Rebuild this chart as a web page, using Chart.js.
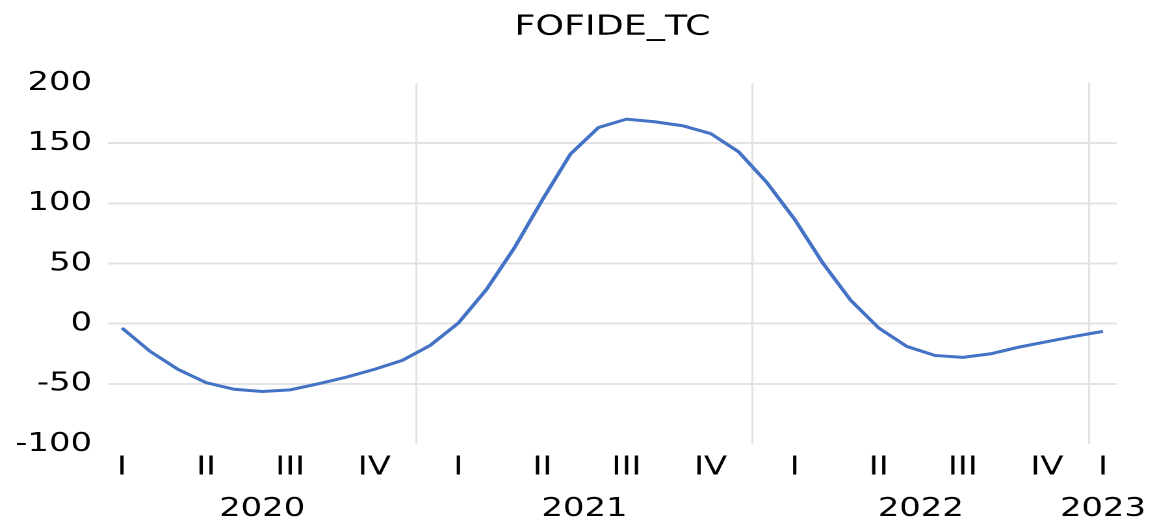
<!DOCTYPE html>
<html>
<head>
<meta charset="utf-8">
<script src="https://cdn.jsdelivr.net/npm/chart.js@4/dist/chart.umd.min.js"></script>
<style>
  html, body { margin: 0; padding: 0; background: #fff; overflow: hidden; }
  /* el original se ve estirado a lo ancho */
  #caja { width: 890px; height: 519px; transform: scaleX(1.3); transform-origin: 0 0; }
</style>
</head>
<body>
<div id="caja"><canvas id="grafico" width="890" height="519"></canvas></div>
<script>
// meses (feb 2020 - ene 2023)
let meses = ['2020-02','2020-03','2020-04','2020-05','2020-06','2020-07','2020-08','2020-09','2020-10','2020-11','2020-12',
             '2021-01','2021-02','2021-03','2021-04','2021-05','2021-06','2021-07','2021-08','2021-09','2021-10','2021-11','2021-12',
             '2022-01','2022-02','2022-03','2022-04','2022-05','2022-06','2022-07','2022-08','2022-09','2022-10','2022-11','2022-12',
             '2023-01'];
let trimestres = ['I','','','II','','','III','','','IV','',
                  '','I','','','II','','','III','','','IV','',
                  '','I','','','II','','','III','','','IV','',
                  'I'];
let valores = [-3.6, -23, -38, -49, -54.5, -56.4, -55, -50, -44.5, -38, -30.5,
               -18, 0.5, 28.3, 63, 103, 141, 163, 170, 167.8, 164.5, 158, 142.8,
               117.5, 86.7, 50.5, 19.4, -3.6, -18.9, -26.4, -28, -25, -19.5, -15, -10.5,
               -6.4];
let anios = ['2020', '2021', '2022', '2023'];
let inicioAnio = [0, 11, 23, 35];
let finAnio = [10, 22, 34, 35];
let ticksY = [200, 150, 100, 50, 0, -50, -100];

Chart.defaults.font.family = "'DejaVu Sans', sans-serif";
Chart.defaults.color = '#000';

let gris = '#e3e3e3';

// etiquetas de los años debajo de los trimestres
let etiquetaAnios = {
    id: 'etiquetaAnios',
    afterDraw: (chart) => {
        let ctx = chart.ctx;
        let x = chart.scales.x;
        ctx.save();
        ctx.font = "26px 'DejaVu Sans', sans-serif";
        ctx.fillStyle = '#000';
        ctx.textAlign = 'center';
        ctx.textBaseline = 'middle';
        for (let i = 0; i < anios.length; i++) {
            let centro = (x.getPixelForValue(inicioAnio[i]) + x.getPixelForValue(finAnio[i])) / 2;
            ctx.fillText(anios[i], centro, 509);
        }
        ctx.restore();
    }
};

let ctx = document.getElementById('grafico').getContext('2d');
let miGrafico = new Chart(ctx, {
    type: 'line',
    data: {
        labels: meses,
        datasets: [{
            label: 'FOFIDE_TC',
            data: valores,
            borderColor: '#4472C4',
            borderWidth: 3,
            pointRadius: 0,
            tension: 0,
            fill: false
        }]
    },
    options: {
        responsive: false,
        animation: false,
        devicePixelRatio: 2,
        layout: { padding: { left: 0, right: 30.8, top: 0, bottom: 0 } },
        plugins: {
            legend: { display: false },
            tooltip: { enabled: false },
            title: {
                display: true,
                text: 'FOFIDE_TC',
                fullSize: false,
                color: '#000',
                font: { size: 28, weight: 'normal' },
                padding: { top: 10.2, bottom: 39.2 }
            }
        },
        scales: {
            x: {
                offset: true,
                border: { display: false },
                grid: {
                    offset: true,
                    drawTicks: false,
                    lineWidth: 1.6,
                    color: (c) => (c.index !== undefined && inicioAnio.slice(1).includes(c.index)) ? gris : 'rgba(0,0,0,0)'
                },
                ticks: {
                    autoSkip: false,
                    maxRotation: 0,
                    minRotation: 0,
                    padding: 8,
                    font: { size: 26 },
                    callback: (v, i) => trimestres[i]
                },
                afterFit: (s) => { s.height = 75; }
            },
            y: {
                min: -100,
                max: 200,
                border: { display: false },
                grid: {
                    drawTicks: false,
                    lineWidth: 2,
                    color: (c) => (c.tick && (c.tick.value === 200 || c.tick.value === -100)) ? 'rgba(0,0,0,0)' : gris
                },
                afterBuildTicks: (s) => { s.ticks = ticksY.map(v => ({ value: v })); },
                ticks: {
                    padding: 12.3,
                    font: { size: 26 }
                },
                afterFit: (s) => { s.width = 83.08; }
            }
        }
    },
    plugins: [etiquetaAnios]
});
</script>
</body>
</html>
